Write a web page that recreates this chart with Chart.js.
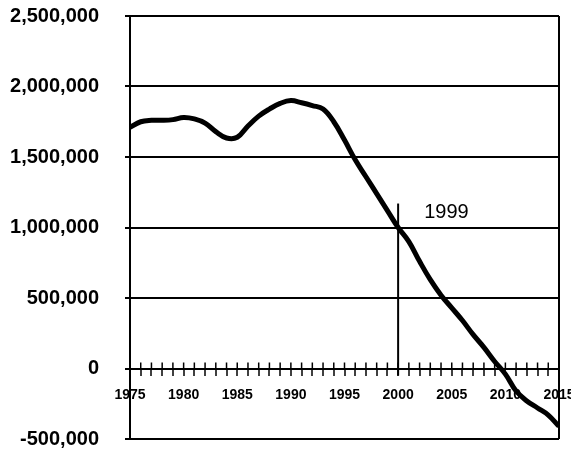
<!DOCTYPE html>
<html>
<head>
<meta charset="utf-8">
<script src="https://cdn.jsdelivr.net/npm/chart.js@4.4.1/dist/chart.umd.min.js"></script>
<style>
  html, body { margin: 0; padding: 0; background: #fff; }
  #wrap { width: 571px; height: 454px; }
</style>
</head>
<body>
<div id="wrap"><canvas id="chart" width="571" height="454"></canvas></div>
<script>
// years and values
const years = [1975, 1976, 1977, 1978, 1979, 1980, 1981, 1982, 1983, 1984,
               1985, 1986, 1987, 1988, 1989, 1990, 1991, 1992, 1993, 1994,
               1995, 1996, 1997, 1998, 1999, 2000, 2001, 2002, 2003, 2004,
               2005, 2006, 2007, 2008, 2009, 2010, 2011, 2012, 2013, 2014, 2015];
const values = [1710000, 1750000, 1760000, 1760000, 1765000, 1780000, 1770000, 1740000, 1680000, 1635000,
                1640000, 1720000, 1790000, 1840000, 1880000, 1900000, 1885000, 1865000, 1840000, 1750000,
                1620000, 1480000, 1360000, 1240000, 1120000, 1000000, 900000, 760000, 630000, 520000,
                430000, 340000, 240000, 150000, 50000, -40000, -160000, -230000, -280000, -330000, -410000];

const yTicks = [-500000, 0, 500000, 1000000, 1500000, 2000000, 2500000];
const xLabelYears = [1975, 1980, 1985, 1990, 1995, 2000, 2005, 2010, 2015];

// the marker line and its text
const markerX = [2000, 2000];
const markerY = [-50000, 1170000];
const markerText = '1999';
const markerTextAt = [2004.5, 1106000];

const curve = years.map((x, i) => ({ x: x, y: values[i] }));
const marker = markerX.map((x, i) => ({ x: x, y: markerY[i] }));

// upper half of the little crosses on the zero line, plus the 1999 label
const extras = {
    id: 'extras',
    afterDraw(chart) {
        const ctx = chart.ctx;
        const xs = chart.scales.x;
        const ys = chart.scales.y;
        const y0 = ys.getPixelForValue(0);
        ctx.save();
        ctx.strokeStyle = '#000';
        ctx.lineWidth = 1.5;
        for (let yr = years[0]; yr <= years[years.length - 1]; yr++) {
            const px = xs.getPixelForValue(yr);
            ctx.beginPath();
            ctx.moveTo(px, y0);
            ctx.lineTo(px, y0 - 6);
            ctx.stroke();
        }
        ctx.fillStyle = '#000';
        ctx.font = '20px "Liberation Sans", Arial, sans-serif';
        ctx.textAlign = 'center';
        ctx.textBaseline = 'middle';
        ctx.fillText(markerText, xs.getPixelForValue(markerTextAt[0]), ys.getPixelForValue(markerTextAt[1]));
        ctx.restore();
    }
};

new Chart(document.getElementById('chart').getContext('2d'), {
    type: 'line',
    data: {
        datasets: [{
            data: curve,
            borderColor: '#000',
            borderWidth: 5,
            pointRadius: 0,
            tension: 0.4,
            fill: false
        }, {
            data: marker,
            borderColor: '#000',
            borderWidth: 2,
            pointRadius: 0,
            tension: 0,
            fill: false
        }]
    },
    options: {
        responsive: false,
        animation: false,
        devicePixelRatio: 1,
        layout: { padding: { top: 16, right: 12, bottom: 15, left: 0 } },
        plugins: { legend: { display: false }, tooltip: { enabled: false } },
        scales: {
            x: {
                type: 'linear',
                position: { y: 0 },
                min: 1975,
                max: 2015,
                afterBuildTicks(scale) {
                    const t = [];
                    for (let yr = 1975; yr <= 2015; yr++) t.push({ value: yr });
                    scale.ticks = t;
                },
                afterFit(scale) {
                    scale.height = 0;
                    scale.paddingLeft = 0;
                    scale.paddingRight = 0;
                    scale.paddingTop = 0;
                    scale.paddingBottom = 0;
                },
                ticks: {
                    autoSkip: false,
                    maxRotation: 0,
                    padding: 12,
                    color: '#000',
                    font: { family: '"Liberation Sans", Arial, sans-serif', size: 14, weight: 'bold' },
                    callback: v => xLabelYears.includes(v) ? String(v) : ''
                },
                grid: {
                    drawOnChartArea: true,
                    color: c => (c.tick && (c.tick.value === 1975 || c.tick.value === 2015)) ? '#000' : 'rgba(0,0,0,0)',
                    lineWidth: 2,
                    tickColor: '#000',
                    tickLength: 6,
                    tickWidth: 1.5
                },
                border: { color: '#000', width: 2 }
            },
            y: {
                min: -500000,
                max: 2500000,
                afterFit(scale) {
                    scale.width = 130;
                    scale.paddingTop = 0;
                    scale.paddingBottom = 0;
                },
                afterBuildTicks(scale) { scale.ticks = yTicks.map(v => ({ value: v })); },
                ticks: {
                    padding: 26,
                    color: '#000',
                    font: { family: '"Liberation Sans", Arial, sans-serif', size: 20, weight: 'bold' },
                    callback: v => v.toLocaleString('en-US')
                },
                grid: {
                    color: '#000',
                    lineWidth: 2,
                    tickLength: 5
                },
                border: { color: '#000', width: 2 }
            }
        }
    },
    plugins: [extras]
});
</script>
</body>
</html>
